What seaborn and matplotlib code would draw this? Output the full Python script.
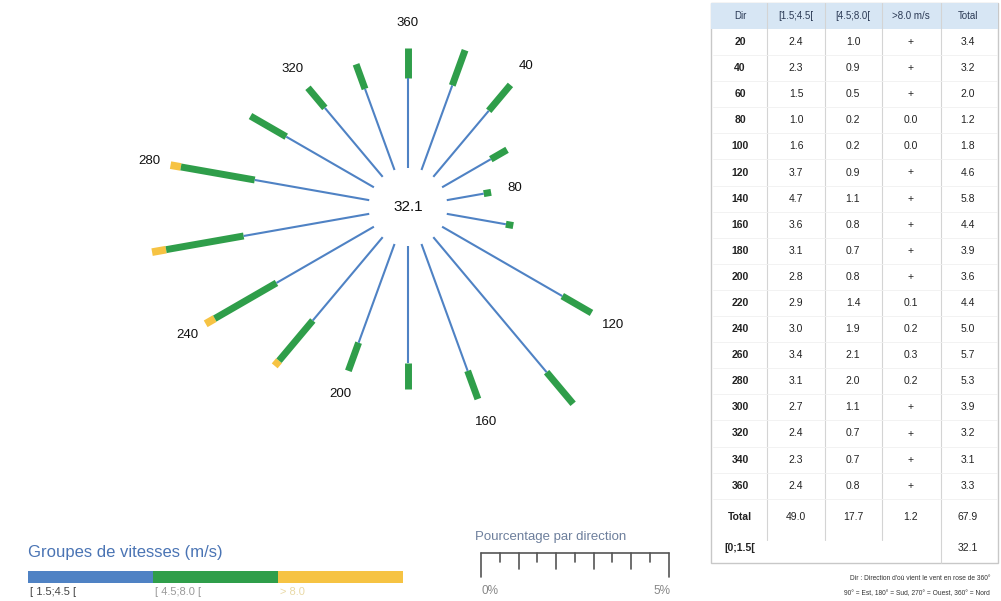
import numpy as np
import matplotlib
matplotlib.use("Agg")
import matplotlib.pyplot as plt
import seaborn as sns
from matplotlib.patches import Rectangle

# wind rose data (% of observations per direction)
directions = [20, 40, 60, 80, 100, 120, 140, 160, 180, 200, 220, 240, 260, 280, 300, 320, 340, 360]
speed_15_45 = [2.4, 2.3, 1.5, 1.0, 1.6, 3.7, 4.7, 3.6, 3.1, 2.8, 2.9, 3.0, 3.4, 3.1, 2.7, 2.4, 2.3, 2.4]
speed_45_80 = [1.0, 0.9, 0.5, 0.2, 0.2, 0.9, 1.1, 0.8, 0.7, 0.8, 1.4, 1.9, 2.1, 2.0, 1.1, 0.7, 0.7, 0.8]
speed_gt8_text = ["+", "+", "+", "0.0", "0.0", "+", "+", "+", "+", "+", "0.1", "0.2", "0.3", "0.2", "+", "+", "+", "+"]
totals = [3.4, 3.2, 2.0, 1.2, 1.8, 4.6, 5.8, 4.4, 3.9, 3.6, 4.4, 5.0, 5.7, 5.3, 3.9, 3.2, 3.1, 3.3]
column_totals = [49.0, 17.7, 1.2, 67.9]
calm_pct = 32.1

header = ["Dir", "[1.5;4.5[", "[4.5;8.0[", ">8.0 m/s", "Total"]
group_labels = ["[ 1.5;4.5 [", "[ 4.5;8.0 [", "> 8.0"]
label_dirs = [40, 80, 120, 160, 200, 240, 280, 320, 360]

sns.set_theme(style="white")
plt.rcParams["font.family"] = ["Liberation Sans", "DejaVu Sans"]

colors = ["#4f82c4", "#2f9e4a", "#f6c343"]
W, H = 1001, 601
px_per_pct = 37.5
hole = 1.05  # inner empty radius, in %

speed_gt8 = [0.0 if t == "+" else float(t) for t in speed_gt8_text]
df = {
    "theta": np.deg2rad(directions),
    "r1": hole + np.array(speed_15_45),
}
df["r2"] = df["r1"] + np.array(speed_45_80)
df["r3"] = df["r2"] + np.array(speed_gt8)

fig = plt.figure(figsize=(W / 100, H / 100), dpi=100)
fig.patch.set_facecolor("white")

# polar rose
cx, cy, R = 408, 207, 260
ax = fig.add_axes([(cx - R) / W, (H - cy - R) / H, 2 * R / W, 2 * R / H], projection="polar")
ax.set_theta_zero_location("N")
ax.set_theta_direction(-1)
ax.set_ylim(0, R / px_per_pct)
ax.set_axis_off()
for th, a, b, c in zip(df["theta"], df["r1"], df["r2"], df["r3"]):
    if c > b:
        ax.plot([th, th], [b, c + 0.08], color=colors[2], lw=5.5, solid_capstyle="butt", clip_on=False)
    ax.plot([th, th], [a, b], color=colors[1], lw=5.0, solid_capstyle="butt", clip_on=False)
    ax.plot([th, th], [hole, a], color=colors[0], lw=1.5, solid_capstyle="butt", clip_on=False)
for d, t in zip(directions, df["r3"]):
    if d in label_dirs:
        ax.text(np.deg2rad(d), t + 0.65, str(d), ha="center", va="center",
                fontsize=9.5, color="#111111", clip_on=False)
ax.text(0, 0, f"{calm_pct:.1f}", ha="center", va="center", fontsize=11, color="#111111")

# overlay in pixel coordinates for table, legend and scale
ov = fig.add_axes([0, 0, 1, 1])
ov.set_xlim(0, W)
ov.set_ylim(H, 0)
ov.set_axis_off()
ov.patch.set_alpha(0)

# table
col_x = [740, 796, 853, 911, 968]
col_lines = [767, 825, 882, 941]
row0, row_h = 42, 26.1
ov.add_patch(Rectangle((711, 3), 287, 560, facecolor="white", edgecolor="#c8c8c8", lw=1.0))
ov.add_patch(Rectangle((711, 3), 287, 26, facecolor="#d7e6f4", edgecolor="none"))
for x in col_lines:
    ov.plot([x, x], [3, 540 if x != col_lines[-1] else 563], color="#d4d4d4", lw=0.8)
for j, h in enumerate(header):
    ov.text(col_x[j], 16, h, ha="center", va="center", fontsize=7, color="#2b3a55")
for i, d in enumerate(directions):
    y = row0 + i * row_h
    ov.plot([713, 997], [y + row_h / 2, y + row_h / 2], color="#f0f0f0", lw=0.6)
    vals = [str(d), f"{speed_15_45[i]:.1f}", f"{speed_45_80[i]:.1f}", speed_gt8_text[i], f"{totals[i]:.1f}"]
    for j, v in enumerate(vals):
        ov.text(col_x[j], y, v, ha="center", va="center", fontsize=7.5,
                color="#222222", fontweight="bold" if j == 0 else "normal")
y_tot = row0 + len(directions) * row_h + 5
ov.text(col_x[0], y_tot, "Total", ha="center", va="center", fontsize=7.5, color="#222222", fontweight="bold")
for j, v in enumerate(column_totals):
    ov.text(col_x[j + 1], y_tot, f"{v:.1f}", ha="center", va="center", fontsize=7.5, color="#222222")
ov.text(col_x[0], y_tot + 31, "[0;1.5[", ha="center", va="center", fontsize=7.5, color="#222222", fontweight="bold")
ov.text(col_x[4], y_tot + 31, f"{calm_pct:.1f}", ha="center", va="center", fontsize=7.5, color="#222222")
ov.text(990, 578, "Dir : Direction d'où vient le vent en rose de 360°", ha="right", va="center",
        fontsize=4.8, color="#333333")
ov.text(990, 594, "90° = Est, 180° = Sud, 270° = Ouest, 360° = Nord", ha="right", va="center",
        fontsize=4.8, color="#333333")

# speed group legend
ov.text(28, 553, "Groupes de vitesses (m/s)", ha="left", va="center", fontsize=12, color="#4a74b4")
seg_w = 125
label_cols = ["#444444", "#9a9a9a", "#e9d9a6"]
for k, (c, lab) in enumerate(zip(colors, group_labels)):
    ov.add_patch(Rectangle((28 + k * seg_w, 571), seg_w, 12, facecolor=c, edgecolor="none"))
    ov.text(30 + k * seg_w, 592, lab, ha="left", va="center", fontsize=8, color=label_cols[k])

# percentage scale
x0, ybar = 481, 553
ov.text(475, 537, "Pourcentage par direction", ha="left", va="center", fontsize=9.5, color="#6d7f9c")
ov.plot([x0, x0 + 5 * px_per_pct], [ybar, ybar], color="#555555", lw=1.2)
for s in np.arange(0, 5.01, 0.5):
    x = x0 + s * px_per_pct
    if s in (0, 5):
        ln = 24
    elif s == int(s):
        ln = 16
    else:
        ln = 9
    ov.plot([x, x], [ybar, ybar + ln], color="#555555", lw=1.2)
ov.text(x0, 591, "0%", ha="left", va="center", fontsize=8.5, color="#888888")
ov.text(x0 + 5 * px_per_pct + 2, 591, "5%", ha="right", va="center", fontsize=8.5, color="#888888")

fig.savefig("out.png", dpi=100, facecolor="white")
